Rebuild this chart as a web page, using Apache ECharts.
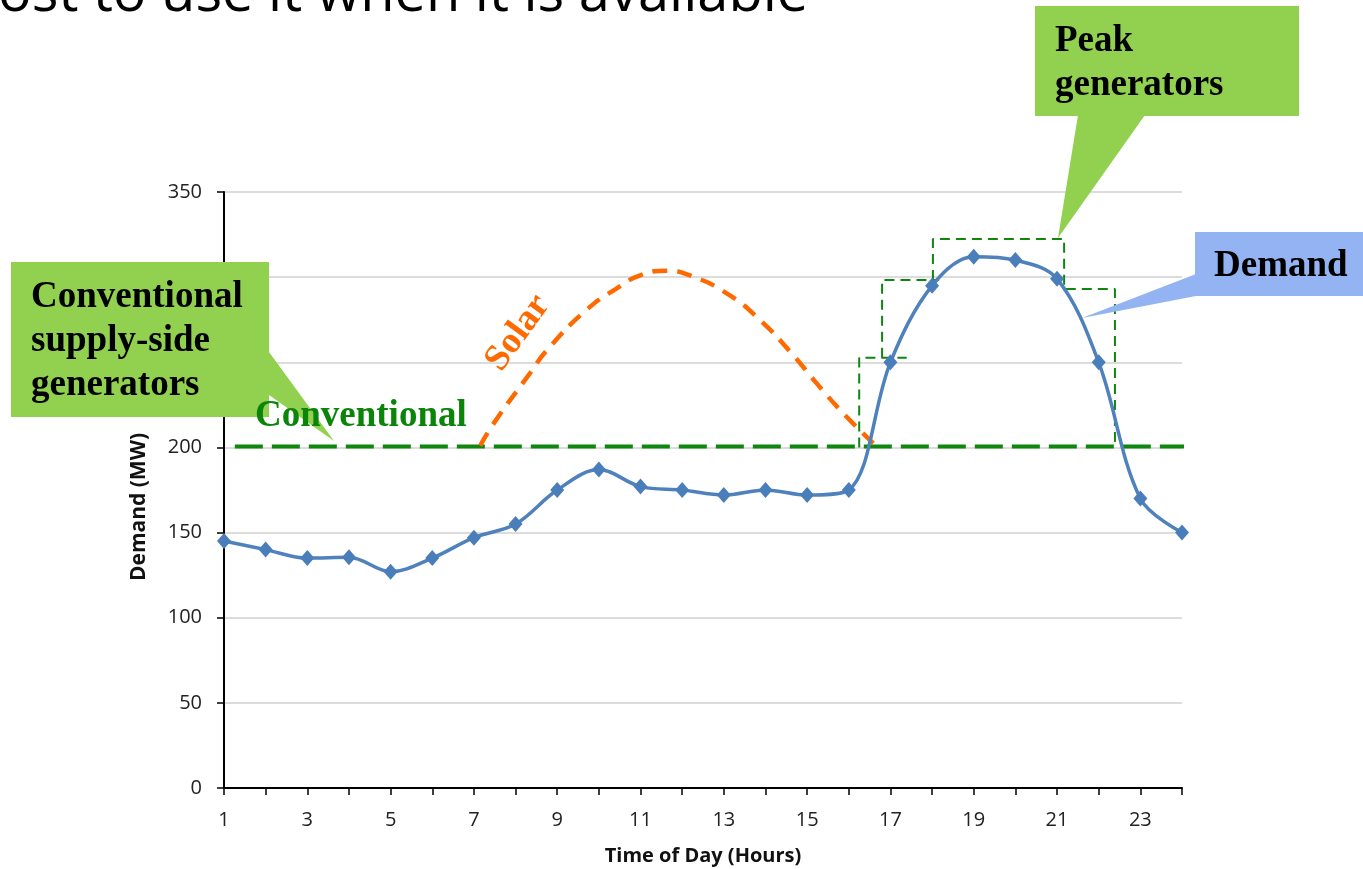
<!DOCTYPE html>
<html>
<head>
<meta charset="utf-8">
<script src="https://cdn.jsdelivr.net/npm/echarts@6/dist/echarts.min.js"></script>
<style>html,body{margin:0;padding:0;background:#fff}#c{width:1363px;height:869px}</style>
</head>
<body>
<div id="c"></div>
<script>
// ---- data ----
const hours = ['1','2','3','4','5','6','7','8','9','10','11','12','13','14','15','16','17','18','19','20','21','22','23','24'];
const demand = [145, 140, 135, 135.5, 127, 135, 147, 155, 175, 187, 177, 175, 172, 175, 172, 175, 250, 295, 312, 310, 299, 250, 170, 150];
const yTicks = { min: 0, max: 350, interval: 50 };
// solar curve [hour, MW]
const solar = [[7.15,201],[7.5,215],[8.35,243.7],[8.75,257],[9.7,280.7],[10.43,293.4],[10.99,301],[11.63,303.8],[12.19,301],[13.07,290.5],[13.87,274.8],[14.66,254.3],[15.23,237.6],[15.87,220],[16.59,202.4]];
// conventional supply level
const conventional = [[1.26,200.5],[24.33,200.5]];
// peak generator steps
const peakStepA = [[16.25,200],[16.25,252.7],[17.39,252.7]];
const peakStepB = [[16.8,252.7],[16.8,298.3],[18.17,298.3]];
const peakStepC = [[18.02,298.3],[18.02,322.4],[21.17,322.4],[21.17,293],[22.39,293],[22.39,200]];

const chart = echarts.init(document.getElementById('c'));
const GREEN = '#0d870d';
const thinDash = { color: GREEN, width: 2, type: [10, 6] };
function stepSeries(d){
  return { type:'line', xAxisIndex:1, data:d, symbol:'none', clip:false, lineStyle: thinDash, z:3, silent:true };
}
const serif = '"Liberation Serif","Times New Roman",serif';
const sans = '"Open Sans",sans-serif';
const option = {
  animation: false,
  grid: { left: 224, right: 181, top: 192, bottom: 81, containLabel: false, outerBoundsMode: 'none' },
  xAxis: [{
    type: 'category', data: hours, boundaryGap: false,
    axisLine: { lineStyle: { color: '#000', width: 2 } },
    axisTick: { interval: 0, length: 7, lineStyle: { color: '#000', width: 1.5 } },
    axisLabel: { interval: 1, fontSize: 20, color: '#222', margin: 22, fontFamily: sans },
    splitLine: { show: false },
    name: 'Time of Day (Hours)', nameLocation: 'middle', nameGap: 58,
    nameTextStyle: { fontSize: 20, fontWeight: 'bold', color: '#111', fontFamily: sans }
  }, {
    type: 'value', min: 1, max: 24, show: false
  }],
  yAxis: {
    type: 'value', min: yTicks.min, max: yTicks.max, interval: yTicks.interval,
    axisLine: { show: true, lineStyle: { color: '#000', width: 2 } },
    axisTick: { show: true, length: 7, lineStyle: { color: '#000', width: 1.5 } },
    axisLabel: { fontSize: 20, color: '#222', margin: 22, fontFamily: sans },
    splitLine: { lineStyle: { color: '#d0d0d0', width: 1.5 } },
    name: 'Demand (MW)', nameLocation: 'middle', nameGap: 74,
    nameTextStyle: { fontSize: 21, fontWeight: 'bold', color: '#111', fontFamily: sans, padding: [0, 34, 0, 0] }
  },
  series: [
    { type:'line', xAxisIndex:1, data: conventional, symbol:'none', clip:false,
      lineStyle:{ color: GREEN, width: 4, type: [28, 9] }, z:2 },
    stepSeries(peakStepA), stepSeries(peakStepB), stepSeries(peakStepC),
    { type:'line', xAxisIndex:1, data: solar, symbol:'none', smooth: 0.5,
      lineStyle:{ color:'#FF6A00', width: 4.5, type: [15, 10] }, z:4 },
    { type:'line', data: demand, smooth: 0.35, symbol:'diamond', symbolSize:[14,16],
      itemStyle:{ color:'#4A7EBB' }, lineStyle:{ color:'#4F81BD', width: 3.5 }, z:6 }
  ],
  graphic: [
    { type:'text', x:-2, y:-5, z:50, style:{ text:'ost to use it when it is available', fontSize:56, fontFamily:sans, fill:'#000', verticalAlign:'middle' } },
    // conventional callout
    { type:'polygon', z:60, shape:{ points:[[269,352],[334,441],[269,395]] }, style:{ fill:'#92D050' } },
    { type:'rect', z:60, shape:{ x:11, y:262, width:258, height:155 }, style:{ fill:'#92D050' } },
    { type:'text', z:61, x:31, y:275, style:{ text:'Conventional\nsupply-side\ngenerators', fontSize:37, fontWeight:'bold', fontFamily:serif, lineHeight:44, fill:'#000', verticalAlign:'top' } },
    { type:'text', z:62, x:255, y:394, style:{ text:'Conventional', fontSize:37, fontWeight:'bold', fontFamily:serif, lineHeight:44, fill:'#0a850a', verticalAlign:'top' } },
    // peak callout
    { type:'polygon', z:60, shape:{ points:[[1078,115],[1145,115],[1058,238]] }, style:{ fill:'#92D050' } },
    { type:'rect', z:60, shape:{ x:1035, y:6, width:264, height:110 }, style:{ fill:'#92D050' } },
    { type:'text', z:61, x:1055, y:19, style:{ text:'Peak\ngenerators', fontSize:37, fontWeight:'bold', fontFamily:serif, lineHeight:44, fill:'#000', verticalAlign:'top' } },
    // demand callout
    { type:'polygon', z:60, shape:{ points:[[1196,274],[1196,296],[1082,318]] }, style:{ fill:'#94B3F2' } },
    { type:'rect', z:60, shape:{ x:1195, y:232, width:168, height:64 }, style:{ fill:'#94B3F2' } },
    { type:'text', z:61, x:1214, y:244, style:{ text:'Demand', fontSize:37, fontWeight:'bold', fontFamily:serif, lineHeight:44, fill:'#000', verticalAlign:'top' } },
    // solar label
    { type:'text', z:62, x:518, y:333, rotation: 54*Math.PI/180, style:{ text:'Solar', fontSize:37, fontWeight:'bold', fontFamily:serif, fill:'#FF6A00', align:'center', verticalAlign:'middle' } }
  ]
};
chart.setOption(option);
</script>
</body>
</html>
